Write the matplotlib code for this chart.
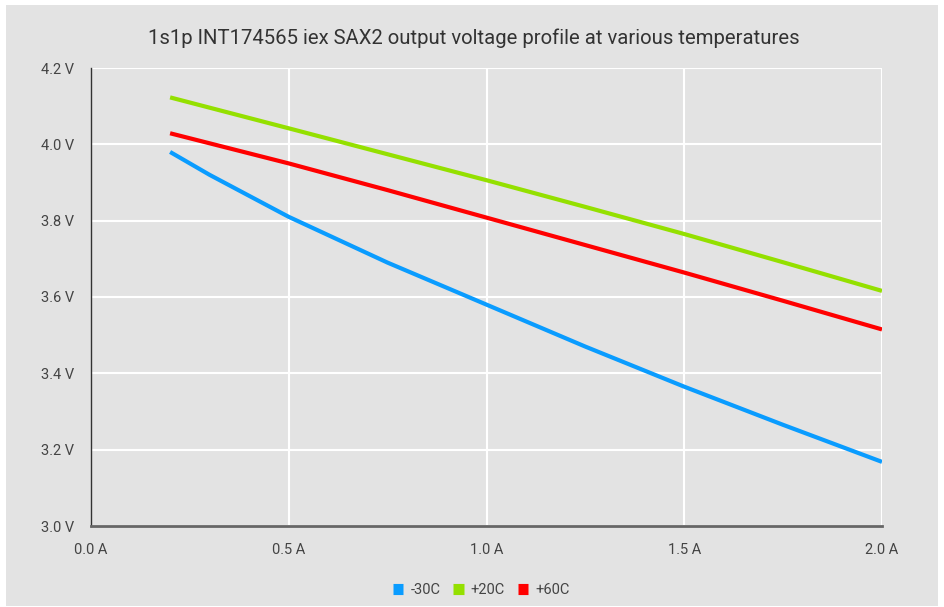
import matplotlib.pyplot as plt
from matplotlib.patches import Rectangle
from matplotlib.ticker import FuncFormatter

plt.rcParams['font.family'] = ['Roboto', 'DejaVu Sans']

# current (A) and output voltage (V) at each temperature
current_cold = [0.2, 0.3, 0.4, 0.5, 0.75, 1.0, 1.25, 1.5, 1.75, 2.0]
volt_cold = [3.98, 3.92, 3.865, 3.81, 3.69, 3.58, 3.47, 3.365, 3.265, 3.168]

current = [0.2, 0.5, 0.75, 1.0, 1.25, 1.5, 1.75, 2.0]
volt_20 = [4.123, 4.042, 3.974, 3.906, 3.836, 3.765, 3.691, 3.616]
volt_60 = [4.029, 3.950, 3.880, 3.808, 3.736, 3.664, 3.590, 3.515]

labels = ['-30C', '+20C', '+60C']
colors = ['#0a9cff', '#94e000', '#ff0000']

bg = '#e3e3e3'

fig = plt.figure(figsize=(9.44, 6.07), dpi=100)
fig.patch.set_facecolor('white')
# grey card behind the chart
fig.patches.append(Rectangle((6 / 944, 1 / 607), 932 / 944, 601 / 607,
                             transform=fig.transFigure, facecolor=bg,
                             edgecolor='none', zorder=-10))

ax = fig.add_axes([91 / 944, 1 - 526 / 607, 791 / 944, 458 / 607])
ax.set_facecolor(bg)

ax.plot(current_cold, volt_cold, color=colors[0], lw=3, label=labels[0],
        solid_capstyle='butt', zorder=3)
ax.plot(current, volt_20, color=colors[1], lw=3, label=labels[1],
        solid_capstyle='butt', zorder=3)
ax.plot(current, volt_60, color=colors[2], lw=3, label=labels[2],
        solid_capstyle='butt', zorder=3)

ax.set_xlim(0, 2.0)
ax.set_ylim(3.0, 4.2)
ax.set_xticks([0, 0.5, 1.0, 1.5, 2.0])
ax.set_yticks([3.0, 3.2, 3.4, 3.6, 3.8, 4.0, 4.2])
ax.xaxis.set_major_formatter(FuncFormatter(lambda v, p: '%.1f A' % v))
ax.yaxis.set_major_formatter(FuncFormatter(lambda v, p: '%.1f V' % v))
ax.grid(True, color='white', lw=1.5, zorder=1)
ax.set_axisbelow(True)
ax.tick_params(length=0, labelsize=10.5, labelcolor='#444444')
ax.tick_params(axis='x', pad=12)
ax.tick_params(axis='y', pad=12)

for s in ['top', 'right']:
    ax.spines[s].set_visible(False)
ax.spines['left'].set_color('#333333')
ax.spines['left'].set_linewidth(1)
ax.spines['bottom'].set_color('#666666')
ax.spines['bottom'].set_linewidth(2)

fig.text(0.502, 1 - 38 / 607, '1s1p INT174565 iex SAX2 output voltage profile at various temperatures',
         ha='center', va='center', fontsize=14.6, color='#333333')

leg = fig.legend(loc='center', bbox_to_anchor=(0.51, 1 - 590 / 607), ncol=3,
                 frameon=False, fontsize=10.5, handlelength=0.7, handleheight=0.7,
                 handletextpad=0.5, columnspacing=0.9)
for h in leg.legend_handles:
    h.set_linewidth(8)
for t in leg.get_texts():
    t.set_color('#444444')

fig.savefig('out.png', dpi=100)
